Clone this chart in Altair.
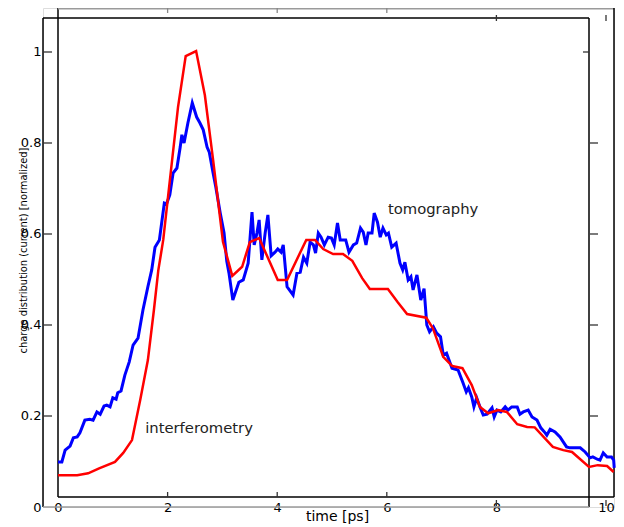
import altair as alt
import pandas as pd

# ---------------- data ----------------
interf_t = [0, 0.35, 0.55, 0.75, 1.04, 1.19, 1.35, 1.5, 1.64, 1.75, 1.83, 1.92, 2.19, 2.33, 2.52,
            2.68, 2.83, 3.01, 3.18, 3.36, 3.5, 3.67, 4.01, 4.18, 4.53, 4.69, 4.84, 5.02, 5.2, 5.37,
            5.55, 5.69, 6.02, 6.2, 6.37, 6.72, 6.84, 7.03, 7.19, 7.38, 7.55, 7.7, 7.85, 8.03, 8.19,
            8.38, 8.56, 8.7, 9.03, 9.22, 9.38, 9.69, 9.85, 10.02, 10.14]
interf_v = [0.07, 0.07, 0.074, 0.085, 0.099, 0.119, 0.147, 0.235, 0.323, 0.433, 0.52, 0.587, 0.879,
            0.991, 1.002, 0.905, 0.763, 0.583, 0.508, 0.528, 0.582, 0.591, 0.499, 0.499, 0.587,
            0.587, 0.567, 0.556, 0.556, 0.541, 0.503, 0.479, 0.479, 0.45, 0.424, 0.416, 0.393,
            0.33, 0.31, 0.305, 0.268, 0.22, 0.206, 0.213, 0.209, 0.182, 0.176, 0.175, 0.132,
            0.125, 0.121, 0.088, 0.092, 0.09, 0.077]

tomo_t = [0, 0.07, 0.13, 0.22, 0.28, 0.35, 0.40, 0.49, 0.58, 0.64, 0.71, 0.77, 0.84, 0.89, 0.95,
          1.0, 1.06, 1.09, 1.15, 1.22, 1.3, 1.37, 1.46, 1.55, 1.64, 1.71, 1.77, 1.85, 1.94, 1.98,
          2.04, 2.1, 2.17, 2.23, 2.26, 2.3, 2.37, 2.45, 2.53, 2.59, 2.65, 2.72, 2.76, 2.83, 2.88,
          2.96, 3.03, 3.08, 3.12, 3.19, 3.30, 3.38, 3.47, 3.54, 3.58, 3.63, 3.67, 3.72, 3.78, 3.83,
          3.89, 3.96, 4.01, 4.07, 4.11, 4.18, 4.29, 4.36, 4.42, 4.48, 4.54, 4.6, 4.66, 4.7, 4.75,
          4.8, 4.86, 4.93, 4.99, 5.04, 5.10, 5.15, 5.25, 5.31, 5.39, 5.45, 5.52, 5.57, 5.62, 5.66,
          5.73, 5.77, 5.83, 5.88, 5.93, 5.99, 6.03, 6.09, 6.17, 6.24, 6.29, 6.33, 6.39, 6.44, 6.48,
          6.55, 6.62, 6.68, 6.73, 6.78, 6.85, 6.91, 6.98, 7.03, 7.09, 7.19, 7.3, 7.39, 7.45, 7.49,
          7.55, 7.59, 7.64, 7.7, 7.76, 7.83, 7.86, 7.92, 7.96, 8.01, 8.08, 8.16, 8.21, 8.28, 8.38,
          8.43, 8.49, 8.58, 8.65, 8.74, 8.81, 8.89, 8.92, 8.98, 9.07, 9.16, 9.28, 9.34, 9.53, 9.62,
          9.71, 9.76, 9.84, 9.89, 9.95, 10.02, 10.1, 10.14, 10.15]
tomo_v = [0.099, 0.099, 0.125, 0.134, 0.152, 0.154, 0.163, 0.191, 0.193, 0.191, 0.209, 0.204, 0.222,
          0.224, 0.22, 0.24, 0.237, 0.251, 0.255, 0.29, 0.319, 0.356, 0.371, 0.433, 0.484, 0.521,
          0.571, 0.587, 0.668, 0.666, 0.686, 0.734, 0.745, 0.791, 0.818, 0.8, 0.844, 0.888, 0.857,
          0.844, 0.829, 0.791, 0.780, 0.734, 0.703, 0.646, 0.602, 0.540, 0.514, 0.455, 0.494,
          0.499, 0.536, 0.648, 0.576, 0.602, 0.631, 0.543, 0.602, 0.642, 0.552, 0.56, 0.567, 0.56,
          0.576, 0.484, 0.466, 0.514, 0.516, 0.549, 0.536, 0.582, 0.576, 0.558, 0.602, 0.593,
          0.576, 0.593, 0.591, 0.576, 0.624, 0.587, 0.587, 0.56, 0.576, 0.58, 0.613, 0.604, 0.576,
          0.602, 0.602, 0.646, 0.626, 0.593, 0.613, 0.598, 0.602, 0.571, 0.58, 0.536, 0.521, 0.538,
          0.499, 0.506, 0.477, 0.51, 0.455, 0.480, 0.40, 0.385, 0.396, 0.382, 0.374, 0.334, 0.338,
          0.305, 0.301, 0.273, 0.253, 0.262, 0.242, 0.22, 0.24, 0.22, 0.202, 0.204, 0.209, 0.218,
          0.198, 0.213, 0.209, 0.22, 0.213, 0.22, 0.22, 0.204, 0.209, 0.213, 0.198, 0.191, 0.174,
          0.163, 0.158, 0.171, 0.165, 0.154, 0.132, 0.130, 0.130, 0.121, 0.108, 0.11, 0.105,
          0.103, 0.119, 0.11, 0.11, 0.103, 0.086]

x_ticks = [0, 2, 4, 6, 8, 10]
y_ticks = [0, 0.2, 0.4, 0.6, 0.8, 1.0]

label_text = ["tomography", "interferometry"]
label_t = [6.02, 1.59]
label_v = [0.653, 0.171]

# ---------------- layout ----------------
W, H = 571, 499
X_DOM = [-0.274, 10.146]
Y_DOM = [0, 1.0967]
FONT = "DejaVu Sans"

xs = alt.Scale(domain=X_DOM, nice=False, zero=False)
ys = alt.Scale(domain=Y_DOM, nice=False, zero=False)

xaxis = alt.Axis(values=x_ticks, format="d", domain=False, ticks=False, tickSize=0, grid=False,
                 labelFont=FONT, labelFontSize=13, labelColor="black", labelBaseline="middle",
                 labelPadding=0, labelFlush=False, labelOverlap=False,
                 title="time [ps]", titleX=294, titleY=9, titleAlign="center",
                 titleBaseline="middle", titleAngle=0, titleFont=FONT, titleFontSize=14,
                 titleFontWeight="normal", titleColor="black")
yaxis = alt.Axis(values=y_ticks, format="~g", domain=False, ticks=False, tickSize=0, grid=False,
                 labelFont=FONT, labelFontSize=13, labelColor="black", labelPadding=2,
                 labelFlush=False, labelOverlap=False,
                 title="charge distribution (current) [normalized]", titleX=-20, titleY=242,
                 titleAngle=270, titleAlign="center", titleBaseline="middle",
                 titleFont="DejaVu Sans Condensed", titleFontSize=11,
                 titleFontWeight="normal", titleColor="black")

X = alt.X("t:Q", scale=xs, axis=xaxis)
Y = alt.Y("v:Q", scale=ys, axis=yaxis)

tomo = pd.DataFrame({"t": tomo_t, "v": tomo_v})
interf = pd.DataFrame({"t": interf_t, "v": interf_v})
labels = pd.DataFrame({"t": label_t, "v": label_v, "txt": label_text})

one = pd.DataFrame({"a": [0]})


def frame(x=None, x2=None, y=None, y2=None, color="black"):
    enc = {}
    if x is not None:
        enc["x"] = alt.value(x)
    if x2 is not None:
        enc["x2"] = alt.value(x2)
    if y is not None:
        enc["y"] = alt.value(y)
    if y2 is not None:
        enc["y2"] = alt.value(y2)
    return alt.Chart(one).mark_rule(color=color, strokeWidth=1.5).encode(**enc)


frames = [
    # inner box (A)
    frame(x=15, y=0, y2=489),
    frame(x=15, x2=571, y=0.75, color="#9a9a9a"),
    frame(x=571, y=0, y2=489),
    frame(x=15, x2=571, y=489),
    # outer box (B)
    frame(x=0, y=10, y2=499),
    frame(x=0, x2=546, y=10),
    frame(x=546, y=10, y2=499),
    frame(x=0, x2=546, y=499, color="#9a9a9a"),
]

xt_a = pd.DataFrame({"t": [2, 4, 6]})
xt_b = pd.DataFrame({"t": [8, 10]})
yt_a = pd.DataFrame({"v": [0.2, 0.4, 0.6, 0.8]})
yt_b = pd.DataFrame({"v": [1.0]})
yt_all = pd.DataFrame({"v": [0.2, 0.4, 0.6, 0.8, 1.0]})

tick_col = "#333333"
ticks = [
    alt.Chart(xt_a).mark_rule(color="#888888", strokeWidth=1.3).encode(x=X, y=alt.value(0), y2=alt.value(5)),
    alt.Chart(xt_b).mark_rule(color=tick_col, strokeWidth=1.3).encode(x=X, y=alt.value(7), y2=alt.value(13)),
    alt.Chart(xt_a).mark_rule(color=tick_col, strokeWidth=1.3).encode(x=X, y=alt.value(484), y2=alt.value(489)),
    alt.Chart(xt_b).mark_rule(color=tick_col, strokeWidth=1.3).encode(x=X, y=alt.value(492), y2=alt.value(498)),
    alt.Chart(yt_all).mark_rule(color=tick_col, strokeWidth=1.3).encode(y=Y, x=alt.value(0), x2=alt.value(9)),
    alt.Chart(yt_a).mark_rule(color=tick_col, strokeWidth=1.3).encode(y=Y, x=alt.value(547), x2=alt.value(555)),
    alt.Chart(yt_b).mark_rule(color=tick_col, strokeWidth=1.3).encode(y=Y, x=alt.value(540), x2=alt.value(546)),
]

blue = alt.Chart(tomo).mark_line(color="#0000ff", strokeWidth=3).encode(x=X, y=Y, order="t:Q")
red = alt.Chart(interf).mark_line(color="#ff0000", strokeWidth=2.5).encode(x=X, y=Y, order="t:Q")

text = alt.Chart(labels).mark_text(align="left", baseline="middle", font=FONT, fontSize=14.8,
                                   color="#222222").encode(x=X, y=Y, text="txt:N")

chart = alt.layer(*frames, *ticks, blue, red, text).properties(
    width=W, height=H,
    autosize=alt.AutoSizeParams(type="none"),
    padding={"left": 35, "top": 0, "right": 2, "bottom": 18},
).configure_view(stroke=None).configure(background="white")

chart.save("out.html", embed_options={"renderer": "svg", "actions": False})
